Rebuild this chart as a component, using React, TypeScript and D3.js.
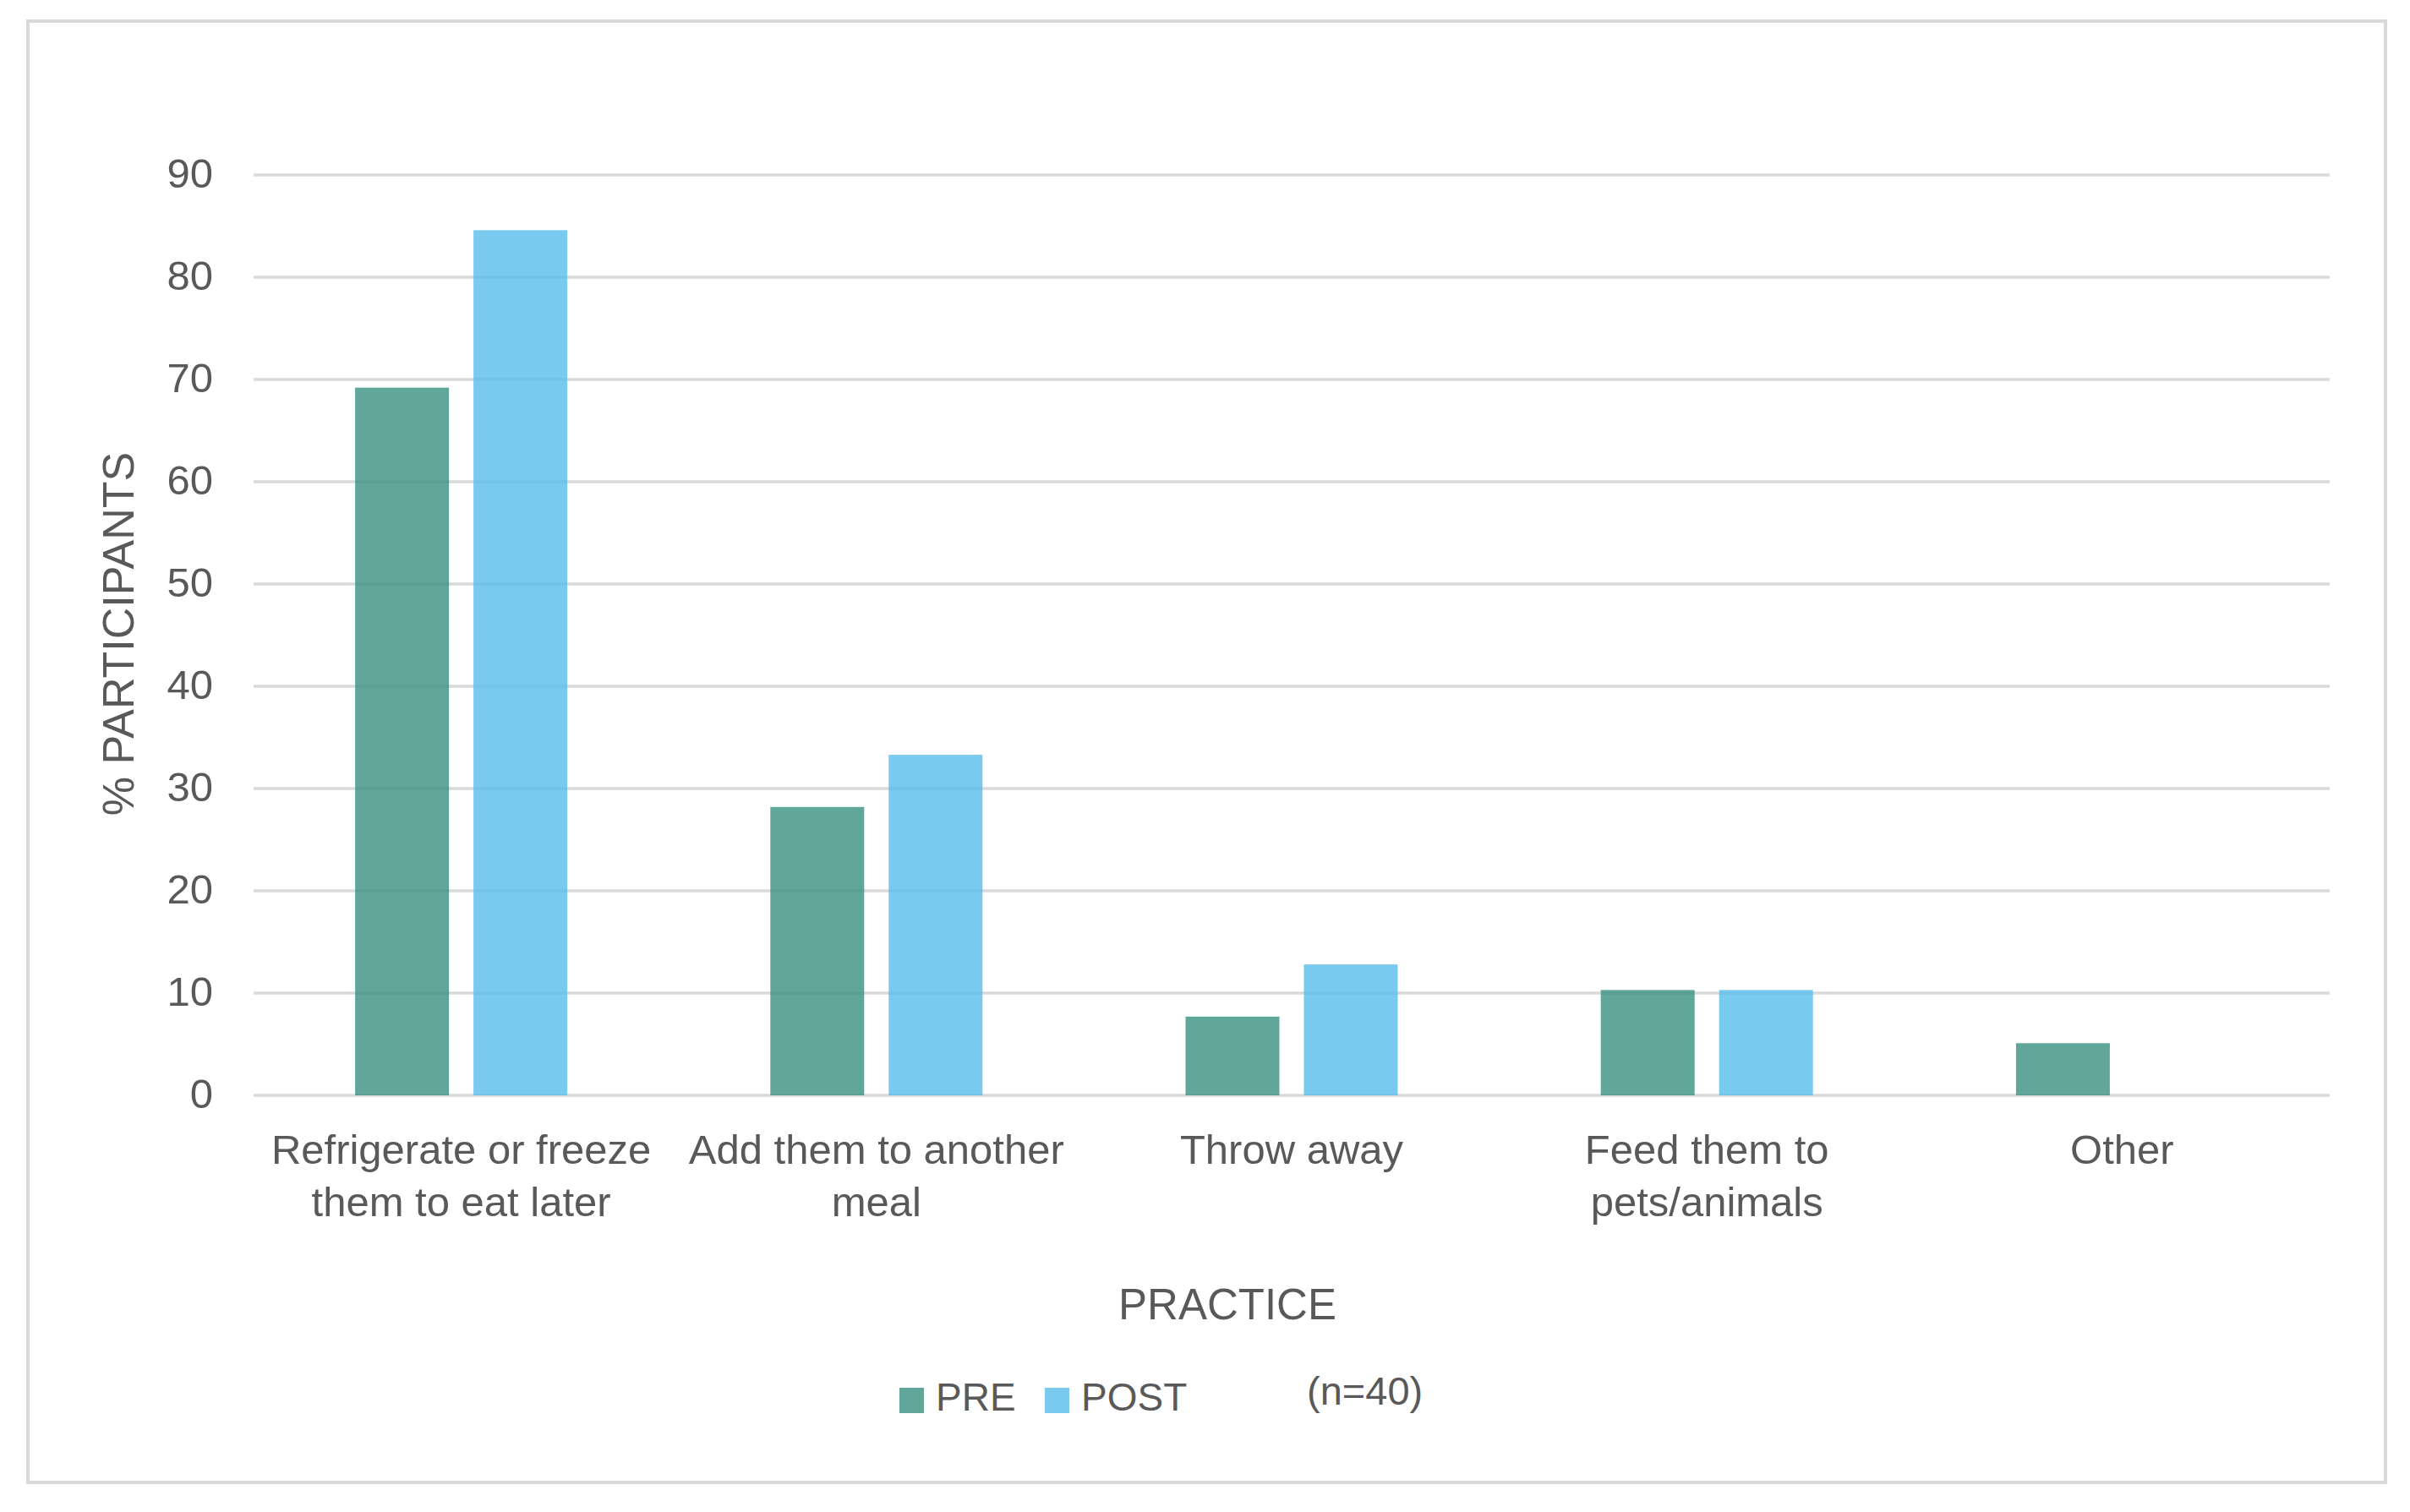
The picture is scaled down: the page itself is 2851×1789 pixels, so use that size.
import React from "react";
import * as d3 from "d3";

const categories = [
  "Refrigerate or freeze them to eat later",
  "Add them to another meal",
  "Throw away",
  "Feed them to pets/animals",
  "Other",
];
const categoryLines = [
  ["Refrigerate or freeze", "them to eat later"],
  ["Add them to another", "meal"],
  ["Throw away"],
  ["Feed them to", "pets/animals"],
  ["Other"],
];
const seriesNames = ["PRE", "POST"];
const preValues = [69.2, 28.2, 7.7, 10.3, 5.1];
const postValues = [84.6, 33.3, 12.8, 10.3, 0];
const yTicks = [0, 10, 20, 30, 40, 50, 60, 70, 80, 90];
const seriesColors = ["#3A9082", "#59BBEB"];

const W = 2851;
const H = 1789;
const TEXT = "#595959";
const GRID = "#D9D9D9";
const FONT = "'Liberation Sans', Arial, sans-serif";

export default function App() {
  const x = d3.scaleBand<string>().domain(categories).range([300, 2756]).paddingInner(0).paddingOuter(0);
  const xs = d3
    .scaleBand<string>()
    .domain(seriesNames)
    .range([0, x.bandwidth()])
    .paddingInner(0.207)
    .paddingOuter(0.858);
  const y = d3.scaleLinear().domain([0, 90]).range([1296, 207]);
  const values = [preValues, postValues];

  return (
    <svg
      width={W}
      height={H}
      style={{ position: "fixed", left: 0, top: 0, background: "#fff" }}
      fontFamily={FONT}
    >
      <rect x={0} y={0} width={W} height={H} fill="#fff" />
      <rect x={33} y={25} width={2789} height={1729} fill="none" stroke={GRID} strokeWidth={4} />
      {yTicks.map((t) => (
        <g key={t}>
          <line x1={300} x2={2756} y1={y(t)} y2={y(t)} stroke={GRID} strokeWidth={3.5} />
          <text x={252} y={y(t)} dy="0.3em" textAnchor="end" fontSize={49} fill={TEXT}>
            {t}
          </text>
        </g>
      ))}
      {categories.map((c, i) => (
        <g key={c} transform={`translate(${x(c)},0)`}>
          {seriesNames.map((s, j) => {
            const v = values[j][i];
            if (!v) return null;
            return (
              <rect
                key={s}
                x={xs(s)}
                y={y(v)}
                width={xs.bandwidth()}
                height={y(0) - y(v)}
                fill={seriesColors[j]}
                fillOpacity={0.8}
              />
            );
          })}
          {categoryLines[i].map((ln, k) => (
            <text
              key={k}
              x={x.bandwidth() / 2}
              y={1377 + k * 62}
              textAnchor="middle"
              fontSize={49}
              fill={TEXT}
            >
              {ln}
            </text>
          ))}
        </g>
      ))}
      <text
        transform="translate(140,750) rotate(-90)"
        textAnchor="middle"
        dominantBaseline="central"
        fontSize={52}
        fill={TEXT}
      >
        % PARTICIPANTS
      </text>
      <text x={1452} y={1561} textAnchor="middle" fontSize={51} fill={TEXT}>
        PRACTICE
      </text>
      {seriesNames.map((s, j) => {
        const sx = [1064, 1236][j];
        return (
          <g key={s}>
            <rect x={sx} y={1642} width={29} height={30} fill={seriesColors[j]} fillOpacity={0.8} />
            <text x={sx + 43} y={1669} fontSize={46} fill={TEXT}>
              {s}
            </text>
          </g>
        );
      })}
      <text x={1546} y={1662} fontSize={47} fill={TEXT}>
        (n=40)
      </text>
    </svg>
  );
}
